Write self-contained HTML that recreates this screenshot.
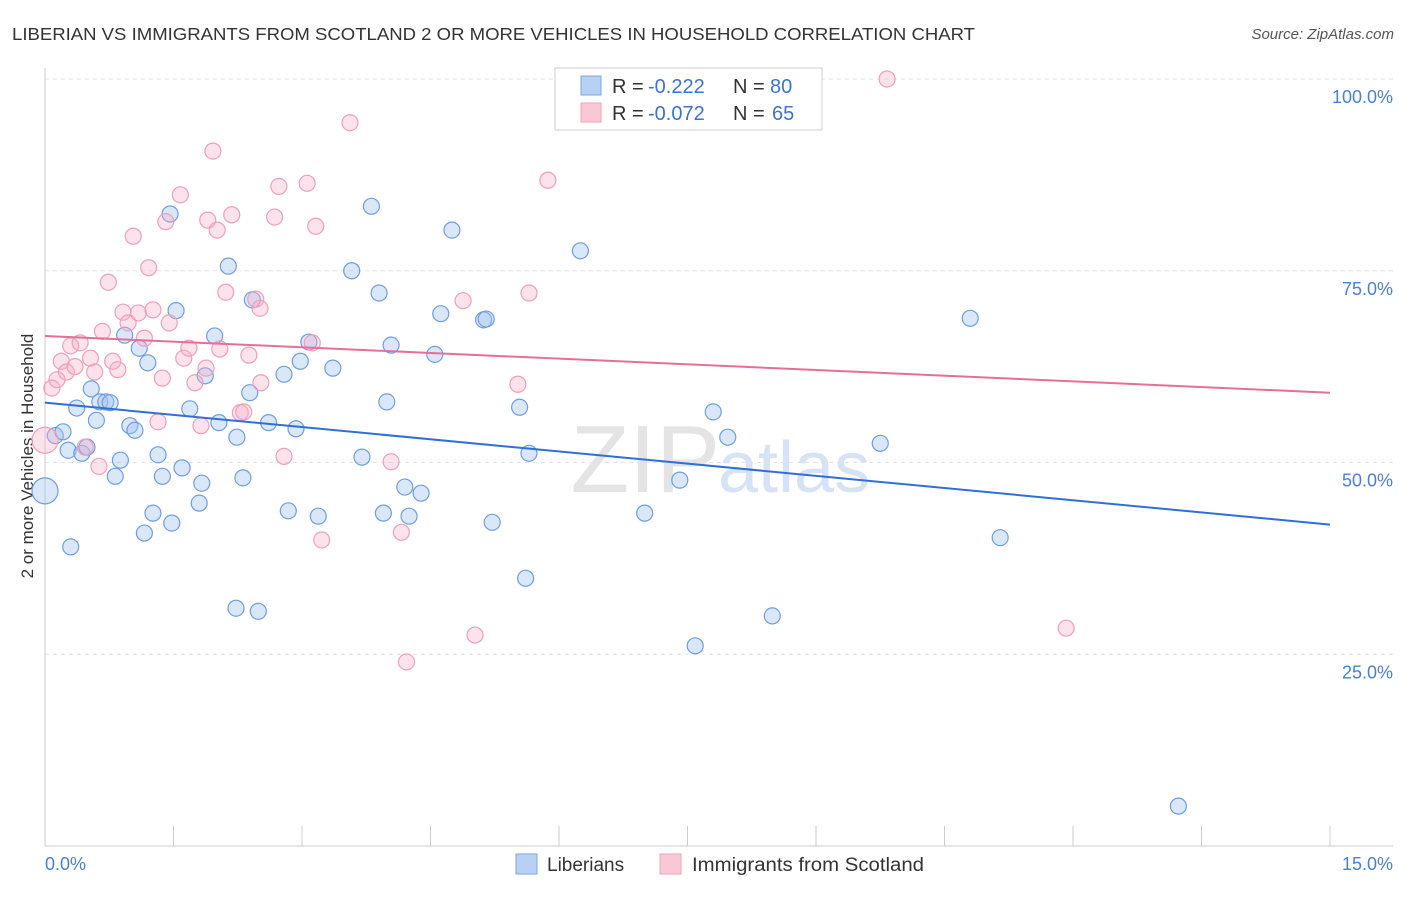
<!DOCTYPE html>
<html><head><meta charset="utf-8"><style>
body{margin:0;background:#fff;font-family:"Liberation Sans",sans-serif;}
svg text{font-family:"Liberation Sans",sans-serif;}
</style></head><body>
<svg id="chart" width="1406" height="892" xmlns="http://www.w3.org/2000/svg">
<text x="12" y="40" font-size="17.5" fill="#333" textLength="963" lengthAdjust="spacingAndGlyphs">LIBERIAN VS IMMIGRANTS FROM SCOTLAND 2 OR MORE VEHICLES IN HOUSEHOLD CORRELATION CHART</text>
<text x="1394" y="39" font-size="15" fill="#555" font-style="italic" text-anchor="end">Source: ZipAtlas.com</text>
<text transform="translate(33,456) rotate(-90)" font-size="17" fill="#333" text-anchor="middle">2 or more Vehicles in Household</text>
<text x="720" y="492" font-size="96" fill="#e4e4e4" text-anchor="end" font-family="Liberation Serif">ZIP</text>
<text x="718" y="492" font-size="72" fill="#d6e3f5">atlas</text>
<g id="grid"></g><g id="axes"></g><g id="pts"></g><g id="lines"></g>
<g>
<rect x="555" y="68" width="267" height="62" fill="#fff" stroke="#ccc"/>
<rect x="581" y="76" width="20" height="19" fill="#b7d0f3" stroke="#7ea6e0"/>
<rect x="581" y="103" width="20" height="19" fill="#f9c7d6" stroke="#eea4bc"/>
<text x="612" y="93" font-size="20" fill="#333">R = <tspan x="648" fill="#3d73d0">-0.222</tspan><tspan x="733">N =</tspan><tspan x="770" fill="#3d73d0">80</tspan></text>
<text x="612" y="120" font-size="20" fill="#333">R = <tspan x="648" fill="#3d73d0">-0.072</tspan><tspan x="733">N =</tspan><tspan x="772" fill="#3d73d0">65</tspan></text>
</g>
<g>
<rect x="516" y="854" width="21" height="20" fill="#b7d0f3" stroke="#7ea6e0"/>
<text x="547" y="871" font-size="19" fill="#333">Liberians</text>
<rect x="660" y="854" width="21" height="20" fill="#f9c7d6" stroke="#eea4bc"/>
<text x="692" y="871" font-size="19" fill="#333" textLength="232" lengthAdjust="spacingAndGlyphs">Immigrants from Scotland</text>
</g>
</svg>
<script>
const blueX=[0,0.12,0.21,0.27,0.30,0.37,0.43,0.49,0.54,0.60,0.64,0.71,0.76,0.82,0.88,0.93,0.99,1.05,1.10,1.16,1.20,1.26,1.32,1.37,1.46,1.48,1.53,1.60,1.69,1.80,1.83,1.87,1.98,2.03,2.14,2.24,2.31,2.23,2.39,2.42,2.49,2.61,2.79,2.84,2.93,2.98,3.08,3.19,3.36,3.58,3.70,3.81,3.90,3.95,3.99,4.04,4.20,4.25,4.39,4.55,4.62,4.75,5.12,5.15,5.22,5.54,5.61,5.65,6.25,7.00,7.41,7.59,7.80,7.97,8.49,9.75,10.80,11.15,13.23];
const blueY=[46.3,53.5,54.0,51.6,39.0,57.1,51.2,52.0,59.6,55.5,57.9,57.9,57.8,48.2,50.3,66.6,54.8,54.2,64.9,40.8,63.0,43.4,51.0,48.2,82.4,42.1,69.8,49.3,57.0,44.7,47.3,61.3,66.5,55.2,75.6,53.3,48.0,31.0,59.1,71.2,30.6,55.2,61.5,43.7,54.4,63.2,65.7,43.0,62.3,75.0,50.7,83.4,72.1,43.4,57.9,65.3,46.8,43.0,46.0,64.1,69.4,80.3,68.6,68.7,42.2,57.2,34.9,51.2,77.6,43.4,47.7,26.1,56.6,53.3,30.0,52.5,68.8,40.2,5.2];
const pinkX=[0,0.08,0.14,0.19,0.25,0.30,0.35,0.41,0.47,0.53,0.58,0.63,0.67,0.74,0.79,0.85,0.91,0.97,1.03,1.09,1.16,1.21,1.26,1.32,1.37,1.41,1.45,1.58,1.62,1.68,1.75,1.82,1.88,1.90,1.96,2.01,2.04,2.11,2.18,2.28,2.32,2.38,2.46,2.51,2.52,2.68,2.73,2.79,3.06,3.12,3.16,3.23,3.56,4.04,4.16,4.22,4.88,5.02,5.52,5.65,5.87,9.83,11.92];
const pinkY=[52.9,59.7,60.8,63.2,61.8,65.2,62.5,65.6,52.0,63.6,61.8,49.5,67.1,73.5,63.2,62.1,69.6,68.2,79.5,69.5,66.2,75.4,69.9,55.3,61.0,81.4,68.2,84.9,63.6,64.9,60.4,54.8,62.3,81.6,90.6,80.3,64.8,72.2,82.3,56.5,56.6,64.0,71.3,70.1,60.4,82.0,86.0,50.8,86.4,65.6,80.8,39.9,94.3,50.1,40.9,24.0,71.1,27.5,60.2,72.1,86.8,100.0,28.4];
const blueTrend=[57.8,41.9];
const pinkTrend=[66.5,59.1];
const yTicks=[25,50,75,100];
const yTickLabels=["25.0%","50.0%","75.0%","100.0%"];
const xTicks=[0,1.5,3,4.5,6,7.5,9,10.5,12,13.5,15];
const xTickLabels=["0.0%","15.0%"];

const NS="http://www.w3.org/2000/svg";
const sx=v=>45+v*(1285/15);
const sy=v=>846-v*7.67;
function mk(parent,tag,attrs){const e=document.createElementNS(NS,tag);for(const k in attrs)e.setAttribute(k,attrs[k]);document.getElementById(parent).appendChild(e);return e;}

yTicks.forEach((t,i)=>{
 const g=mk('grid','line',{x1:45,x2:1393,y1:sy(t),y2:sy(t),stroke:'#e2e2e2','stroke-dasharray':'4,4'});
 
 
 const l=mk('axes','text',{x:1393,y:sy(t)+24,'font-size':18,fill:'#4a7fd6','text-anchor':'end'});
 l.textContent=yTickLabels[i];
 
 
});
let a=mk('axes','line',{x1:45,x2:1393,y1:846,y2:846,stroke:'#ccc'});


a=mk('axes','line',{x1:45,x2:45,y1:68,y2:846,stroke:'#ccc'});


xTicks.forEach(t=>{
 const e=mk('axes','line',{x1:sx(t),x2:sx(t),y1:826,y2:846,stroke:'#ccc'});
 
 
});
let xl=mk('axes','text',{x:45,y:870,'font-size':18,fill:'#4a7fd6'});
xl.textContent=xTickLabels[0];


xl=mk('axes','text',{x:1393,y:870,'font-size':18,fill:'#4a7fd6','text-anchor':'end'});
xl.textContent=xTickLabels[1];



function drawPts(xs,ys,fill,stroke,name){
 xs.forEach((x,i)=>{
  const c=mk('pts','circle',{cx:sx(x),cy:sy(ys[i]),r:i===0?13:8,fill:fill,stroke:stroke,'stroke-width':1.2});
  
  
 });
}
drawPts(blueX,blueY,'rgba(160,194,240,0.4)','#6f9ee0','liberian-point');
drawPts(pinkX,pinkY,'rgba(246,172,198,0.35)','#eea0bb','scotland-point');
let t=mk('lines','line',{x1:sx(0),y1:sy(blueTrend[0]),x2:sx(15),y2:sy(blueTrend[1]),stroke:'#2f6fd6','stroke-width':2});


t=mk('lines','line',{x1:sx(0),y1:sy(pinkTrend[0]),x2:sx(15),y2:sy(pinkTrend[1]),stroke:'#e56f98','stroke-width':2});


</script>
</body></html>
